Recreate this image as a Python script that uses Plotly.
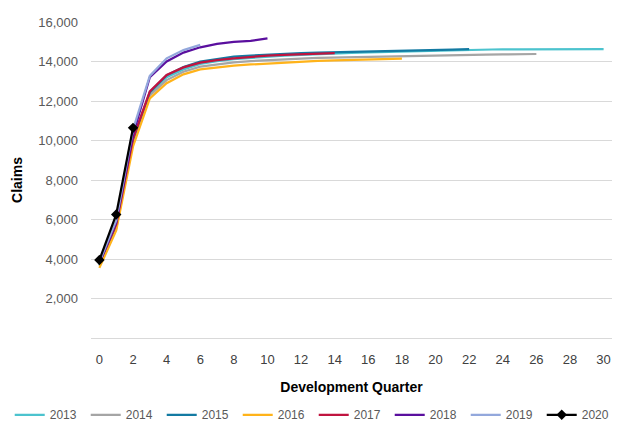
import plotly.graph_objects as go

# Cumulative claims by development quarter, one series per accident year
years = ["2013", "2014", "2015", "2016", "2017", "2018", "2019", "2020"]

claims_2013 = [3700, 5650, 10000, 12350, 13200, 13600, 13880, 14020, 14120, 14190, 14250,
               14300, 14340, 14380, 14410, 14440, 14460, 14480, 14500, 14520, 14540,
               14570, 14600, 14620, 14620, 14620, 14625, 14625, 14625, 14625, 14625]
claims_2014 = [3650, 5550, 9900, 12280, 13060, 13480, 13740, 13860, 13960, 14020, 14070,
               14110, 14150, 14180, 14200, 14220, 14240, 14260, 14280, 14300, 14310,
               14320, 14330, 14350, 14360, 14370, 14380]
claims_2015 = [3750, 5700, 10050, 12450, 13300, 13720, 13990, 14120, 14245, 14300, 14350,
               14400, 14430, 14450, 14465, 14490, 14510, 14530, 14550, 14570, 14580,
               14600, 14630]
claims_2016 = [3550, 5450, 9700, 12130, 12900, 13350, 13600, 13700, 13790, 13850, 13900,
               13950, 14000, 14030, 14060, 14080, 14100, 14120, 14150]
claims_2017 = [3800, 5750, 10100, 12490, 13320, 13700, 13940, 14075, 14160, 14245, 14300,
               14330, 14370, 14400, 14420]
claims_2018 = [3800, 5850, 10300, 13200, 14000, 14450, 14720, 14890, 14990, 15040, 15170]
claims_2019 = [3850, 5950, 10550, 13270, 14160, 14580, 14840]
claims_2020 = [3950, 6250, 10640]

series = [claims_2013, claims_2014, claims_2015, claims_2016,
          claims_2017, claims_2018, claims_2019, claims_2020]
colors = ["#4CC3CE", "#A5A5A5", "#137AA2", "#FFB31A",
          "#C0143F", "#5A0F9E", "#93A8DC", "#000000"]

x_ticks = list(range(0, 31, 2))
y_ticks = list(range(2000, 16001, 2000))

fig = go.Figure()
for year, vals, col in zip(years, series, colors):
    is_latest = year == "2020"
    fig.add_trace(go.Scatter(
        x=list(range(len(vals))),
        y=vals,
        name=year,
        mode="lines+markers" if is_latest else "lines",
        line=dict(color=col, width=2.25),
        marker=dict(symbol="diamond", size=8, color=col) if is_latest else None,
    ))

fig.update_layout(
    width=622, height=421,
    margin=dict(l=91, r=10, t=22, b=83, autoexpand=False),
    paper_bgcolor="white", plot_bgcolor="white",
    font=dict(family="Liberation Sans, Arial, sans-serif", size=12, color="#595959"),
    showlegend=True,
    legend=dict(
        orientation="h", x=-0.156, xanchor="left", y=-0.197, yanchor="top",
        font=dict(size=12, color="#595959"),
        entrywidth=31, entrywidthmode="pixels",
        tracegroupgap=0,
    ),
)

fig.update_xaxes(
    range=[-0.5, 30.5], tickvals=x_ticks, ticktext=[str(v) for v in x_ticks],
    showgrid=False, zeroline=False,
    showline=True, linecolor="#D9D9D9", linewidth=1,
    ticks="", ticklabelstandoff=9,
    tickfont=dict(size=13, color="#404040"),
    title=dict(text="<b>Development Quarter</b>", standoff=16,
               font=dict(size=14, color="#000000")),
)
fig.update_yaxes(
    range=[0, 16000], tickvals=y_ticks, ticktext=[f"{v:,}" for v in y_ticks],
    showgrid=True, gridcolor="#D9D9D9", gridwidth=1, zeroline=False,
    ticks="", ticklabelstandoff=12,
    tickfont=dict(size=13, color="#595959"),
    title=dict(text="<b>Claims</b>", standoff=12,
               font=dict(size=14, color="#000000")),
)

fig.write_html("out.html")
